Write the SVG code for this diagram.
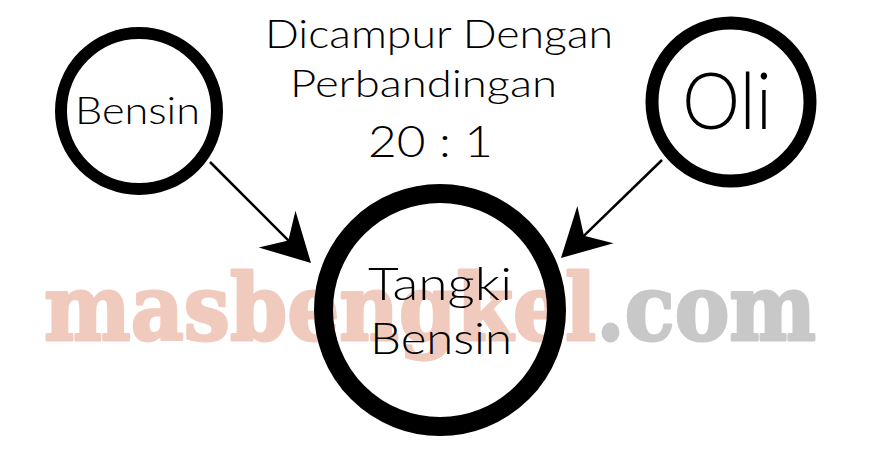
<svg xmlns="http://www.w3.org/2000/svg" width="880" height="473" viewBox="0 0 880 473">
  <style>
    .lbl { font-family: "Lato", "Open Sans", "Liberation Sans", sans-serif; font-weight: 300; fill: #000; text-anchor: middle; }
    .ring { fill: none; stroke: #000; }
    .wm { font-family: "DejaVu Serif", "Liberation Serif", serif; font-weight: bold; font-size: 92px; stroke-width: 3; stroke-linejoin: round; }
    .conn { stroke: #000; stroke-width: 2.5; fill: none; marker-end: url(#head); }
  </style>
  <defs>
    <marker id="head" markerUnits="userSpaceOnUse" viewBox="-50 -30 52 60" markerWidth="52" markerHeight="60" refX="-30" refY="0" orient="auto">
      <path d="M0,0 L-48,-26 L-32,0 L-48,26 Z" fill="#000"/>
    </marker>
  </defs>
  <rect width="880" height="473" fill="#fff"/>

  <g id="watermark">
    <text class="wm" x="44" y="340" textLength="772" lengthAdjust="spacingAndGlyphs"><tspan fill="#f1cabe" stroke="#f1cabe">masbengkel</tspan><tspan fill="#c8c8c8" stroke="#c8c8c8">.com</tspan></text>
  </g>

  <g id="title">
    <text class="lbl" x="439" y="48" font-size="39" textLength="348" lengthAdjust="spacingAndGlyphs">Dicampur Dengan</text>
    <text class="lbl" x="423.5" y="97" font-size="38" textLength="267" lengthAdjust="spacingAndGlyphs">Perbandingan</text>
    <text class="lbl" x="430.5" y="157" font-size="44" textLength="125" lengthAdjust="spacingAndGlyphs">20 : 1</text>
  </g>

  <g id="connectors">
    <line class="conn" x1="210" y1="162" x2="289.8" y2="241.8"/>
    <line class="conn" x1="662" y1="160" x2="582.5" y2="237.1"/>
  </g>

  <g id="node-bensin">
    <circle class="ring" cx="139" cy="111" r="78" stroke-width="12"/>
    <text class="lbl" x="137.5" y="124" font-size="37" textLength="125" lengthAdjust="spacingAndGlyphs">Bensin</text>
  </g>

  <g id="node-oli">
    <circle class="ring" cx="731" cy="102" r="79" stroke-width="13"/>
    <text class="lbl" x="727" y="129" font-size="78" textLength="90" lengthAdjust="spacingAndGlyphs">Oli</text>
  </g>

  <g id="node-tangki">
    <circle class="ring" cx="440" cy="310" r="116.5" stroke-width="19"/>
    <text class="lbl" x="440" y="300" font-size="45" textLength="144" lengthAdjust="spacingAndGlyphs">Tangki</text>
    <text class="lbl" x="441" y="354" font-size="44" textLength="142" lengthAdjust="spacingAndGlyphs">Bensin</text>
  </g>
</svg>
